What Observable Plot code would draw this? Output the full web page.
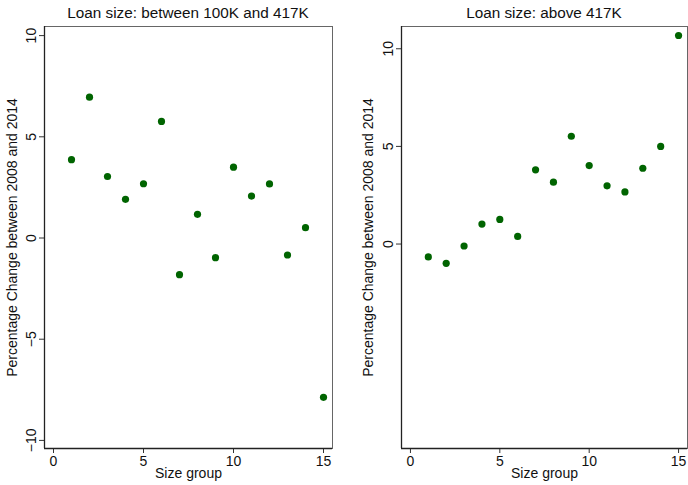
<!DOCTYPE html>
<html>
<head>
<meta charset="utf-8">
<script src="https://cdn.jsdelivr.net/npm/d3@7"></script>
<script src="https://cdn.jsdelivr.net/npm/@observablehq/plot@0.6"></script>
<style>
  html, body { margin: 0; padding: 0; background: #fff; }
  #wrap { position: relative; width: 688px; height: 485px; font-family: "Liberation Sans", Arial, sans-serif; }
  .title { position: absolute; top: 0; height: 22px; line-height: 26px; font-size: 15.3px; text-align: center; color: #111; white-space: nowrap; }
  .panel { position: absolute; top: 22px; }
</style>
</head>
<body>
<div id="wrap"></div>
<script>
const sizeGroups = [1,2,3,4,5,6,7,8,9,10,11,12,13,14,15];
const midValues = [3.87, 6.96, 3.04, 1.91, 2.68, 5.76, -1.81, 1.17, -0.97, 3.50, 2.07, 2.67, -0.84, 0.51, -7.87];
const jumboValues = [-0.66, -0.99, -0.10, 1.02, 1.26, 0.39, 3.80, 3.17, 5.52, 4.02, 2.98, 2.67, 3.88, 5.00, 10.68];
const titles = ["Loan size: between 100K and 417K", "Loan size: above 417K"];
const yLabel = "Percentage Change between 2008 and 2014";
const xLabel = "Size group";
const xTicks = [0, 5, 10, 15];
const yTicksLeft = [-10, -5, 0, 5, 10];
const yTicksRight = [0, 5, 10];

const wrap = document.getElementById("wrap");
const font = "Liberation Sans, Arial, sans-serif";

function panel({values, yTicks, yDomain, left, mLeft, mRight, title, labelDx}) {
  const data = sizeGroups.map((g, i) => ({g, v: values[i]}));
  const plot = Plot.plot({
    width: 344,
    height: 463,
    marginTop: 4,
    marginBottom: 37,
    marginLeft: mLeft,
    marginRight: mRight,
    style: {fontFamily: font, fontSize: "14px", color: "#111", background: "#fff"},
    x: {domain: [-0.5, 15.5]},
    y: {domain: yDomain},
    marks: [
      Plot.frame({stroke: "#666", strokeWidth: 1}),
      Plot.axisX({ticks: xTicks, tickSize: 5, tickPadding: 3, label: null, fontSize: 14, stroke: "#333"}),
      Plot.axisY({ticks: yTicks, tickSize: 5, tickPadding: 4, tickRotate: -90, label: null, fontSize: 14, stroke: "#333"}),
      Plot.ruleY([yDomain[0]], {stroke: "#222", strokeWidth: 1.3}),
      Plot.ruleX([-0.5], {stroke: "#222", strokeWidth: 1.3}),
      Plot.dot(data, {x: "g", y: "v", r: 3.6, fill: "#006400", stroke: "none"}),
      Plot.text([yLabel], {text: d => d, frameAnchor: "left", textAnchor: "middle", rotate: -90, dx: labelDx, fontSize: 14, fill: "#111"}),
      Plot.text([xLabel], {text: d => d, frameAnchor: "bottom", dy: 29, fontSize: 14, fill: "#111"})
    ]
  });
  plot.classList.add("panel");
  plot.style.left = left + "px";
  wrap.appendChild(plot);
  const t = document.createElement("div");
  t.className = "title";
  t.textContent = title;
  t.style.left = (left + mLeft) + "px";
  t.style.width = (344 - mLeft - mRight) + "px";
  wrap.appendChild(t);
}

panel({values: midValues, yTicks: yTicksLeft, yDomain: [-10.4, 10.45], left: 0, mLeft: 44, mRight: 12, title: titles[0], labelDx: -32});
panel({values: jumboValues, yTicks: yTicksRight, yDomain: [-10.47, 11.14], left: 344, mLeft: 57, mRight: 1, title: titles[1], labelDx: -33});
</script>
</body>
</html>
